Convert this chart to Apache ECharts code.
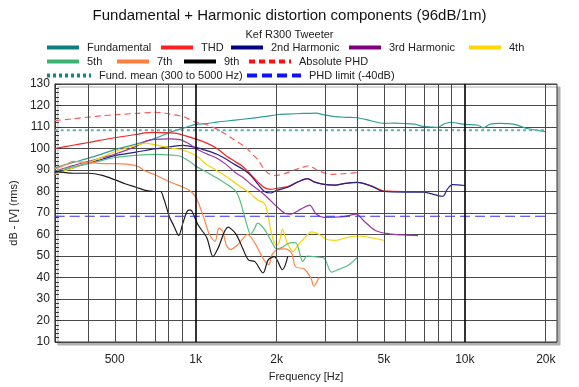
<!DOCTYPE html>
<html><head><meta charset="utf-8">
<script src="https://cdn.jsdelivr.net/npm/echarts@6/dist/echarts.min.js"></script>
<style>html,body{margin:0;padding:0;background:#fff}#c{width:579px;height:387px}</style>
</head><body><div id="c"></div>
<script>
const FONT = '"Liberation Sans", Arial, sans-serif';
const titleText = 'Fundamental + Harmonic distortion components (96dB/1m)';
const subText = 'Kef R300 Tweeter';
const xMinHz = 300, xMaxHz = 22000;
const yMin = 10, yMax = 130, yStep = 10;
const xGridHz = [400,500,600,700,800,900,1000,2000,3000,4000,5000,6000,7000,8000,9000,10000,20000];
const xMajorHz = [1000,10000];
const xLabelHz = [500,1000,2000,5000,10000,20000];
const xLabelText = ['500','1k','2k','5k','10k','20k'];

const fundamental = [[300,91],[350,93.5],[400,95.5],[450,97.5],[500,99.5],[600,102],[700,104.5],[800,107.5],[900,109.5],[1000,111.2],[1100,111.6],[1200,112.3],[1400,113.2],[1600,114],[1800,114.8],[2000,115.7],[2200,116],[2500,116.3],[2800,116.5],[3000,115.6],[3300,114.8],[3600,114.5],[4000,114.3],[4500,112.8],[5000,111.7],[5500,111.8],[6000,111.6],[6500,111.3],[7000,110.3],[7500,110],[7900,109.8],[8400,111.5],[8900,112.1],[10000,111.2],[11200,110.8],[11700,109.6],[12400,111.3],[13500,111.7],[14400,111.6],[15600,111],[17000,109.3],[18500,108.5],[20000,107.8]];
const thd = [[300,100],[350,101.5],[400,102.8],[500,105],[600,106.5],[650,107.3],[700,107.5],[800,107.3],[850,107],[900,106.2],[1000,104.5],[1100,102.5],[1200,100],[1300,96.5],[1400,94],[1500,91.5],[1600,88],[1700,84.5],[1800,81.8],[1900,81],[2000,81.5],[2200,82.3],[2400,84.5],[2600,86],[2750,84.5],[3000,83.3],[3300,83],[3600,83.8],[4000,84.2],[4500,82.5],[5000,80.3],[6000,80],[7000,80]];
const h2 = [[300,88.5],[350,91],[400,93.3],[450,95],[500,96.7],[600,98.3],[700,99.8],[800,100.8],[900,101.5],[1000,100.5],[1100,99],[1200,97.3],[1300,95],[1400,92.5],[1500,90.3],[1600,87.5],[1700,83.5],[1800,80],[1900,79.3],[2000,80.5],[2200,82],[2400,84.5],[2600,86],[2750,84.5],[3000,83.3],[3300,83],[3600,83.8],[4000,84.2],[4500,82.5],[5000,80],[6000,79.7],[7000,79.7],[7500,79],[8000,78],[8300,77.8],[8600,81],[9000,83.2],[10000,82.8]];
const h3 = [[300,89.5],[350,92],[400,94],[450,95.8],[500,97.3],[600,101],[650,103.3],[700,104.2],[800,104.5],[880,104],[950,102],[1000,100],[1100,97.5],[1200,95.5],[1300,92.5],[1400,89],[1500,86.5],[1600,83.5],[1800,78.5],[2000,73],[2150,69.8],[2250,69.5],[2450,71.7],[2650,73.7],[2800,69.5],[3000,68],[3550,68.3],[3950,69.5],[4200,66.5],[4650,61.9],[5250,60.3],[5900,59.8],[6700,59.5]];
const h4 = [[300,88],[350,91],[400,93.5],[450,96],[500,98.5],[600,101.5],[650,102.5],[700,101.8],[800,100.3],[900,99.2],[1000,96.8],[1100,92.5],[1200,89.7],[1300,87],[1400,84],[1500,81.5],[1600,79],[1700,76],[1800,74.5],[1850,70],[1900,62],[1950,57],[2000,55],[2050,57],[2100,62.5],[2150,59],[2200,55.5],[2300,52],[2400,55],[2500,57.5],[2700,61.2],[2900,59.8],[3050,57.8],[3300,57.3],[3700,58.8],[4000,59.3],[4500,58.5],[5000,57.3]];
const h5 = [[300,89.5],[350,91.5],[400,93],[450,94.5],[500,95.8],[600,96.8],[700,97.3],[800,97],[870,96.5],[950,94],[1000,91.8],[1100,89],[1200,86.3],[1300,83.5],[1400,80.5],[1450,77],[1500,71],[1550,64.5],[1600,60],[1650,62.5],[1700,65.3],[1800,62.5],[1900,57.5],[2000,53.3],[2100,54],[2200,55.8],[2350,56.2],[2500,47.5],[2600,50],[2800,49.6],[3000,49],[3200,42.5],[3400,43.8],[3700,45.8],[4000,49.6]];
const h7 = [[300,90.5],[330,92.5],[350,94],[400,93.5],[450,93],[500,93],[600,92],[650,89.5],[700,88],[800,84.5],[900,82],[950,80.5],[1000,77.5],[1050,71],[1100,63.5],[1120,60.5],[1180,56.8],[1220,63],[1260,61.5],[1300,55],[1350,53],[1440,55.5],[1560,60],[1660,56],[1750,50.5],[1820,47],[1870,46],[1920,50.5],[2030,53.2],[2150,53.3],[2270,51.5],[2350,45],[2530,44],[2680,39.8],[2750,36],[2870,40]];
const h9 = [[300,89.5],[350,88.5],[400,88.5],[450,87.5],[500,85.5],[550,83.5],[600,82],[650,80.5],[700,80],[740,80],[760,77],[780,72.5],[800,68],[830,64],[865,59.6],[900,66],[940,71.3],[960,71.3],[980,69.5],[1020,64.5],[1100,58.5],[1160,49.7],[1210,53.5],[1320,63.4],[1410,60.3],[1490,54],[1570,48.2],[1660,47.4],[1780,42.1],[1860,48.2],[1960,49.7],[2100,43.6],[2200,49.8]];
const absPhd = [[300,113],[350,113.8],[400,114.6],[450,115.2],[500,115.7],[600,116.3],[700,116.8],[750,116.7],[800,116],[900,114.8],[950,113.5],[1000,112.2],[1090,111.3],[1200,109],[1290,106.7],[1400,103.8],[1530,100.7],[1620,97.5],[1710,94.5],[1780,91],[1860,88.5],[1960,87.4],[2140,88.3],[2300,89.8],[2470,91.1],[2640,92],[2820,90],[3170,88],[3550,88.3],[4000,88.8]];
const fundMean = 108.5;
const phdLimit = fundMean - 40;
const refLineHz = [300, 20000];

const L = Math.log10;
const xy = arr => arr.map(p => [L(p[0]), p[1]]);

const seriesDefs = [
  {name:'Fundamental', data: fundamental, color:'#2e9e9a', legendColor:'#0b807d'},
  {name:'THD', data: thd, color:'#ff2020'},
  {name:'2nd Harmonic', data: h2, color:'#23238f', legendColor:'#000080'},
  {name:'3rd Harmonic', data: h3, color:'#9b35a6', legendColor:'#800080'},
  {name:'4th', data: h4, color:'#f7d400', legendColor:'#ffd700'},
  {name:'5th', data: h5, color:'#55bf82', legendColor:'#3cb371'},
  {name:'7th', data: h7, color:'#ff8448', legendColor:'#ff7f3f'},
  {name:'9th', data: h9, color:'#1a1a1a', legendColor:'#000'},
  {name:'Absolute PHD', data: absPhd, color:'#ff5a5a', legendColor:'#ff1010', type:[6,4]},
  {name:'Fund. mean (300 to 5000 Hz)', data: refLineHz.map(f=>[f,fundMean]), color:'#5fb2b0', legendColor:'#108a88', type:[3,3], width:2},
  {name:'PHD limit (-40dB)', data: refLineHz.map(f=>[f,phdLimit]), color:'#2f2fff', legendColor:'#1010ff', type:[10,5]}
];

const series = [{
  type:'line', data:[], z:1, silent:true,
  markLine:{silent:true, symbol:['none','none'], label:{show:false}, animation:false,
    data: xGridHz.map(f => ({xAxis: L(f), lineStyle:{type:'solid',
      color: xMajorHz.includes(f) ? '#000' : '#4a4a4a', width: xMajorHz.includes(f) ? 1.6 : 1}}))}
}].concat(seriesDefs.map(s => ({
  name: s.name, type:'line', data: xy(s.data), symbol:'none', smooth:0.3, z:3,
  color: s.legendColor || s.color,
  lineStyle:{color: s.color, width: s.width || 1.2, type: s.type || 'solid'},
  emphasis:{disabled:true}, animation:false
})));

const legendPos = [
  ['Fundamental',45,42,32],['THD',159,42,32],['2nd Harmonic',229,42,32],['3rd Harmonic',347,42,32],['4th',467,42,32],
  ['5th',45,56,32],['7th',115,56,32],['9th',182,56,32],['Absolute PHD',247,56,42],
  ['Fund. mean (300 to 5000 Hz)',45,70,44],['PHD limit (-40dB)',245,70,54]
];
const legends = legendPos.map(p => {
  const d = seriesDefs.find(s => s.name === p[0]);
  return {data:[p[0]], left:p[1], top:p[2], itemWidth:p[3], itemHeight:12, padding:0, selectedMode:false,
    textStyle:{fontFamily:FONT, fontSize:11, color:'#222', padding:[0,0,0,3]},
    itemStyle:{opacity:0},
    lineStyle:{width:4, color: d.legendColor || d.color}};
});

const chart = echarts.init(document.getElementById('c'), null, {renderer:'canvas'});
chart.setOption({
  backgroundColor:'#fff',
  animation:false,
  title:[
    {text:titleText, left:'center', top:3, textStyle:{fontFamily:FONT, fontSize:15, fontWeight:'normal', color:'#111'}},
    {text:subText, left:'center', top:24, textStyle:{fontFamily:FONT, fontSize:11, fontWeight:'normal', color:'#222'}}
  ],
  legend: legends,
  grid:{left:45, right:22, top:84, bottom:40, show:true, backgroundColor:'#fff', borderColor:'#333', borderWidth:1,
    shadowColor:'#b0b0b0', shadowOffsetX:3, shadowOffsetY:3, shadowBlur:0},
  xAxis:{type:'value', min:L(xMinHz), max:L(xMaxHz), splitLine:{show:false}, axisLine:{show:false}, axisTick:{show:false},
    name:'Frequency [Hz]', nameLocation:'middle', nameGap:29,
    nameTextStyle:{fontFamily:FONT, fontSize:11, color:'#222'},
    axisLabel:{customValues: xLabelHz.map(L), margin:12, fontFamily:FONT, fontSize:12, color:'#222',
      formatter: v => { let best=0; xLabelHz.forEach((f,i)=>{ if (Math.abs(L(f)-v) < Math.abs(L(xLabelHz[best])-v)) best=i; }); return xLabelText[best]; }}},
  yAxis:{type:'value', min:yMin, max:yMax, interval:yStep,
    name:'dB - [V] (rms)', nameLocation:'middle', nameGap:27,
    nameTextStyle:{fontFamily:FONT, fontSize:11, color:'#222'},
    axisLine:{show:true, lineStyle:{color:'#333'}},
    axisTick:{show:true, inside:true, length:6, lineStyle:{color:'#333'}},
    minorTick:{show:true, splitNumber:5, length:4, lineStyle:{color:'#333'}},
    splitLine:{show:true, lineStyle:{color:'#4a4a4a', width:1}},
    axisLabel:{margin:5, fontFamily:FONT, fontSize:12, color:'#222'}},
  series: series
});
</script></body></html>
